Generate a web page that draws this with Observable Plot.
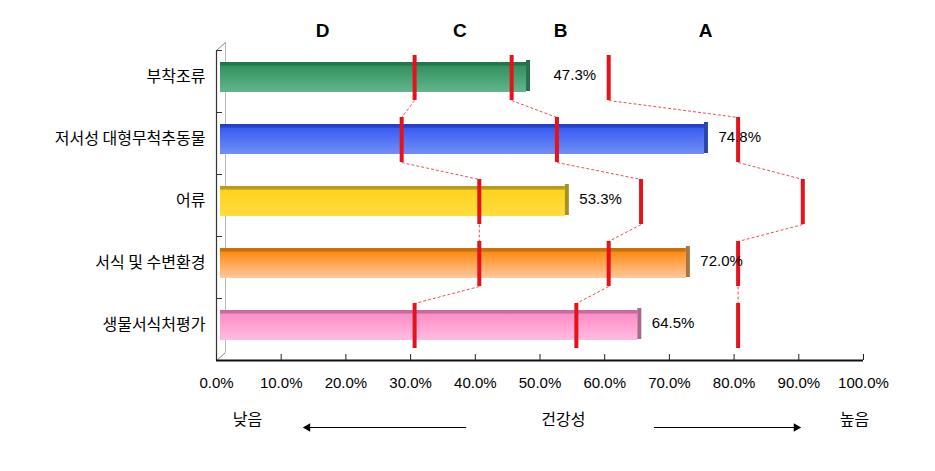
<!DOCTYPE html>
<html>
<head>
<meta charset="utf-8">
<script src="https://cdn.jsdelivr.net/npm/d3@7"></script>
<script src="https://cdn.jsdelivr.net/npm/@observablehq/plot@0.6"></script>
<style>
  html, body { margin: 0; padding: 0; background: #fff; }
  #chart svg { display: block; }
</style>
</head>
<body>
<div id="chart"></div>
<script>
// ---- data ----
const categories = ["부착조류", "저서성 대형무척추동물", "어류", "서식 및 수변환경", "생물서식처평가"];
const values = [47.3, 74.8, 53.3, 72.0, 64.5];
// grade boundaries per category (D|C, C|B, B|A)
const boundDC = [30, 28, 40, 40, 30];
const boundCB = [45, 52, 65, 60, 55];
const boundBA = [60, 80, 90, 80, 80];
const gradeLabels = ["D", "C", "B", "A"];
const gradeLabelX = [16.4, 37.6, 53.2, 75.6];
const xTicks = [0, 10, 20, 30, 40, 50, 60, 70, 80, 90, 100];
const healthLabels = ["낮음", "건강성", "높음"];
const healthLabelX = [4.8, 53.6, 98.6];
const healthArrowFrom = [38.6, 67.6];
const healthArrowTo = [14.1, 89.6];

// ---- styling ----
const gradStops = [
  ["#23764c", "#349260", "#62b68a"],
  ["#2440c8", "#3a5cf0", "#7090f5"],
  ["#b89c18", "#ffd21c", "#ffdc40"],
  ["#c7700c", "#ff8c14", "#ffc8a0"],
  ["#c86a9c", "#ff8ec8", "#ffbce0"]
];
const sideColors = ["#2a6e4c", "#2f46a8", "#a89020", "#a87440", "#a86a8a"];
const red = "#e5121b";

const plotTop = 46, plotBottom = 356, bandPx = (plotBottom - plotTop) / categories.length;
const rows = categories.map((c, i) => ({i, c, v: values[i], dc: boundDC[i], cb: boundCB[i], ba: boundBA[i]}));
const grades = gradeLabels.map((g, i) => ({g, x: gradeLabelX[i]}));
const health = healthLabels.map((t, i) => ({t, x: healthLabelX[i]}));
const arrows = healthArrowFrom.map((f, i) => ({from: f, to: healthArrowTo[i]}));

const links = [];
[boundDC, boundCB, boundBA].forEach(b => {
  for (let i = 0; i < b.length - 1; i++) {
    links.push({x1: b[i], x2: b[i + 1], y1: i + 0.5 - 8 / bandPx, y2: i + 0.5 + 9 / bandPx});
  }
});
const seps = [-0.5, 0.5, 1.5, 2.5, 3.5];
const arrowY = 4.5 + 71 / bandPx;

const chart = Plot.plot({
  width: 935,
  height: 471,
  marginLeft: 216,
  marginRight: 72,
  marginTop: plotTop,
  marginBottom: 471 - plotBottom,
  style: {fontFamily: "'Liberation Sans', 'Noto Sans CJK KR', sans-serif", background: "#fff", color: "#000"},
  x: {domain: [0, 100], axis: null},
  y: {domain: [-0.5, 4.5], range: [plotTop, plotBottom], axis: null},
  color: {type: "identity"},
  marks: [
    // 3D back wall line
    Plot.ruleX([0], {y1: -0.5, y2: 4.5, dx: 9, dy: -4, stroke: "#b8b8b8", strokeWidth: 1}),
    Plot.link([0], {x1: 0, x2: 9 * 100 / 647, y1: -0.5 + 4 / bandPx, y2: -0.5 - 4 / bandPx, stroke: "#888", strokeWidth: 1}),
    Plot.link([0], {x1: 0, x2: 9 * 100 / 647, y1: 4.5 + 4 / bandPx, y2: 4.5 - 4 / bandPx, stroke: "#888", strokeWidth: 1}),
    // left axis line and separator ticks
    Plot.ruleX([0], {y1: -0.5, y2: 4.5, dy: 4, stroke: "#333", strokeWidth: 1.2}),
    Plot.ruleY(seps, {x1: 0, x2: 6 * 100 / 647, dy: 4, stroke: "#333", strokeWidth: 1}),
    // bars
    Plot.rect(rows, {x1: 0, x2: "v", y1: d => d.i - 0.5, y2: d => d.i + 0.5, insetTop: 16, insetBottom: 16, dx: 4, fill: d => `url(#barGrad${d.i})`}),
    Plot.rect(rows, {x1: "v", x2: "v", y1: d => d.i - 0.5, y2: d => d.i + 0.5, insetTop: 14, insetBottom: 17, insetRight: -4, dx: 4, fill: d => sideColors[d.i]}),
    // connectors
    Plot.link(links, {x1: "x1", x2: "x2", y1: "y1", y2: "y2", dx: 4, stroke: "#e8505a", strokeWidth: 1, strokeDasharray: "3,2"}),
    // grade boundary markers
    ...["dc", "cb", "ba"].map(k =>
      Plot.ruleX(rows, {x: k, y1: d => d.i - 0.5, y2: d => d.i + 0.5, insetTop: 9, insetBottom: 8, dx: 4, stroke: red, strokeWidth: 4})),
    // value labels
    Plot.text(rows.filter(d => d.i !== 0), {x: "v", y: "i", text: d => d.v.toFixed(1) + "%", textAnchor: "start", dx: 18, dy: -2, fontSize: 15, fill: "#000"}),
    Plot.text(rows.filter(d => d.i === 0), {x: "v", y: "i", text: d => d.v.toFixed(1) + "%", textAnchor: "start", dx: 31, dy: -2, fontSize: 15, fill: "#000"}),
    // category labels
    Plot.text(rows, {frameAnchor: "left", y: "i", text: "c", textAnchor: "end", dx: -11, dy: -1, fontSize: 16, fontFamily: "'Noto Sans CJK KR', sans-serif", fill: "#000"}),
    // bottom axis
    Plot.ruleY([4.5], {x1: 0, x2: 100, dy: 4, stroke: "#111", strokeWidth: 2}),
    Plot.ruleX(xTicks, {y1: 4.5, y2: 4.5 - 6 / bandPx, dy: 4, stroke: "#222", strokeWidth: 1}),
    Plot.axisX(xTicks, {tickFormat: d => d.toFixed(1) + "%", tickSize: 0, tickPadding: 21, fontSize: 15, anchor: "bottom", label: null}),
    // grade letters
    Plot.text(grades, {x: "x", frameAnchor: "top", text: "g", dy: -23, fontSize: 19, fontWeight: "bold", fontFamily: "'Liberation Sans', Arial, sans-serif", fill: "#000"}),
    // health legend row
    Plot.text(health, {x: "x", frameAnchor: "bottom", text: "t", dy: 68, fontSize: 16, fontFamily: "'Noto Sans CJK KR', sans-serif", fill: "#000"}),
    Plot.link(arrows, {x1: "from", x2: "to", y1: arrowY, y2: arrowY, stroke: "#000", strokeWidth: 1.2}),
    Plot.dot(arrows, {x: "to", y: arrowY, symbol: "triangle", r: 3.2, fill: "#000", stroke: null, rotate: d => d.to < d.from ? -90 : 90})
  ]
});

// gradient definitions for the bars
const svgNS = "http://www.w3.org/2000/svg";
const defs = document.createElementNS(svgNS, "defs");
gradStops.forEach((s, i) => {
  const g = document.createElementNS(svgNS, "linearGradient");
  g.setAttribute("id", `barGrad${i}`);
  g.setAttribute("x1", "0"); g.setAttribute("y1", "0");
  g.setAttribute("x2", "0"); g.setAttribute("y2", "1");
  [[0, s[0]], [0.1, s[0]], [0.14, s[1]], [1, s[2]]].forEach(([o, c]) => {
    const st = document.createElementNS(svgNS, "stop");
    st.setAttribute("offset", o);
    st.setAttribute("stop-color", c);
    g.appendChild(st);
  });
  defs.appendChild(g);
});
chart.insertBefore(defs, chart.firstChild);
document.getElementById("chart").appendChild(chart);
</script>
</body>
</html>
